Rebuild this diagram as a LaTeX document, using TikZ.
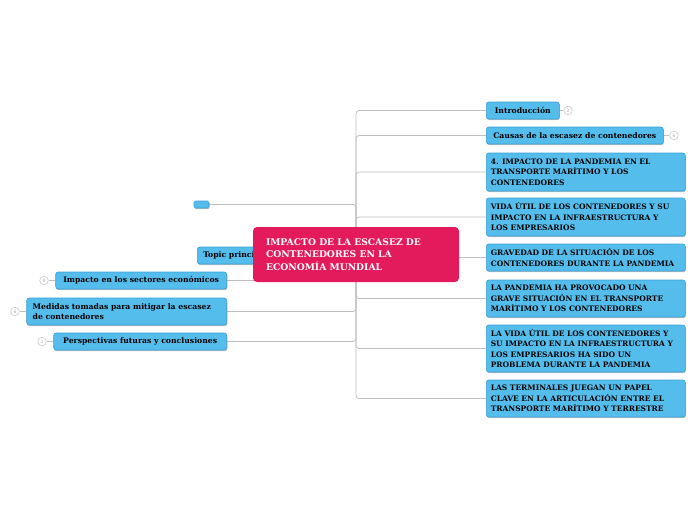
\documentclass[tikz,border=0pt]{standalone}
\usepackage{fontspec}
\setmainfont{DejaVu Serif}
\usetikzlibrary{backgrounds,shadows}
\definecolor{hubred}{HTML}{E31B5D}
\definecolor{tileblue}{HTML}{55BDEC}
\definecolor{tileedge}{HTML}{3A9FD6}
\definecolor{wiregray}{HTML}{BFBFBF}
\definecolor{badgegray}{HTML}{C8C8C8}
\tikzset{
  tile/.style={fill=tileblue, draw=tileedge, line width=0.6pt, rounded corners=2.5pt,
    drop shadow={shadow xshift=0.6pt, shadow yshift=-1.2pt, fill=black, opacity=0.25},
    font=\bfseries\fontsize{7.7}{10.5}\selectfont, text=black, align=flush left,
    inner xsep=6pt, inner ysep=2pt},
  widetile/.style={tile, font=\bfseries\fontsize{7.5}{10.5}\selectfont,
    text width=190pt, minimum width=199pt, inner xsep=4.5pt},
  wire/.style={draw=wiregray, line width=0.8pt, rounded corners=3pt},
  badge/.style={circle, draw=badgegray, line width=0.6pt, fill=white, minimum size=8.5pt,
    inner sep=0pt, font=\fontsize{4.5}{5}\selectfont, text=gray!70},
  hubbox/.style={fill=hubred, rounded corners=4pt, text=white,
    font=\bfseries\fontsize{9.2}{12.8}\selectfont, align=flush left,
    minimum width=206pt, minimum height=55pt, text width=180pt}
}
\begin{document}
\begin{tikzpicture}[x=1pt,y=-1pt]
\useasboundingbox (0,0) rectangle (696,520);
% right side
\node[tile, anchor=west, minimum width=73pt, minimum height=17pt] (intro) at (486,110.5) {Introducción};
\node[tile, anchor=west, minimum width=177pt, minimum height=17pt] (causas) at (486,135.5) {Causas de la escasez de contenedores};
\node[widetile, anchor=west, minimum height=38pt] (imp4) at (486,172) {4. IMPACTO DE LA PANDEMIA EN EL\\TRANSPORTE MARÍTIMO Y LOS\\CONTENEDORES};
\node[widetile, anchor=west, minimum height=38pt] (vida) at (486,217) {VIDA ÚTIL DE LOS CONTENEDORES Y SU\\IMPACTO EN LA INFRAESTRUCTURA Y\\LOS EMPRESARIOS};
\node[widetile, anchor=west, minimum height=27pt] (grav) at (486,257.5) {GRAVEDAD DE LA SITUACIÓN DE LOS\\CONTENEDORES DURANTE LA PANDEMIA};
\node[widetile, anchor=west, minimum height=37pt] (pand) at (486,298.5) {LA PANDEMIA HA PROVOCADO UNA\\GRAVE SITUACIÓN EN EL TRANSPORTE\\MARÍTIMO Y LOS CONTENEDORES};
\node[widetile, anchor=west, minimum height=47pt] (vida2) at (486,348.5) {LA VIDA ÚTIL DE LOS CONTENEDORES Y\\SU IMPACTO EN LA INFRAESTRUCTURA Y\\LOS EMPRESARIOS HA SIDO UN\\PROBLEMA DURANTE LA PANDEMIA};
\node[widetile, anchor=west, minimum height=37pt] (term) at (486,398.5) {LAS TERMINALES JUEGAN UN PAPEL\\CLAVE EN LA ARTICULACIÓN ENTRE EL\\TRANSPORTE MARÍTIMO Y TERRESTRE};
% left side
\node[tile, minimum width=15pt, minimum height=7pt, inner sep=0pt, rounded corners=1.5pt] (dot) at (201.5,204.5) {};
\node[tile, anchor=west, minimum height=17pt] (topic) at (197,255.5) {Topic principal};
\node[tile, anchor=east, minimum width=171pt, minimum height=17pt] (impacto) at (227,280.5) {Impacto en los sectores económicos};
\node[tile, anchor=east, text width=188pt, minimum height=27pt] (medidas) at (227,311.5) {Medidas tomadas para mitigar la escasez\\de contenedores};
\node[tile, anchor=east, minimum width=173pt, minimum height=17pt] (persp) at (227,341.5) {Perspectivas futuras y conclusiones};
% badges
\node[badge] (b1) at (568,110.5) {2};
\node[badge] (b2) at (674,135.5) {6};
\node[badge] (b3) at (44,280.5) {9};
\node[badge] (b4) at (15,311.5) {6};
\node[badge] (b5) at (42,341.5) {2};
% hub
\node[hubbox] (hub) at (356,254.5) {IMPACTO DE LA ESCASEZ DE\\CONTENEDORES EN LA\\ECONOMÍA MUNDIAL};
\begin{scope}[on background layer]
\foreach \t in {intro,causas,imp4,vida,grav,pand,vida2,term}
  \draw[wire] (hub.center) |- (\t.west);
\foreach \t in {dot,topic,impacto,medidas,persp}
  \draw[wire] (hub.center) |- (\t.east);
\draw[wire] (intro.east) -- (b1);
\draw[wire] (causas.east) -- (b2);
\draw[wire] (impacto.west) -- (b3);
\draw[wire] (medidas.west) -- (b4);
\draw[wire] (persp.west) -- (b5);
\end{scope}
\end{tikzpicture}
\end{document}
